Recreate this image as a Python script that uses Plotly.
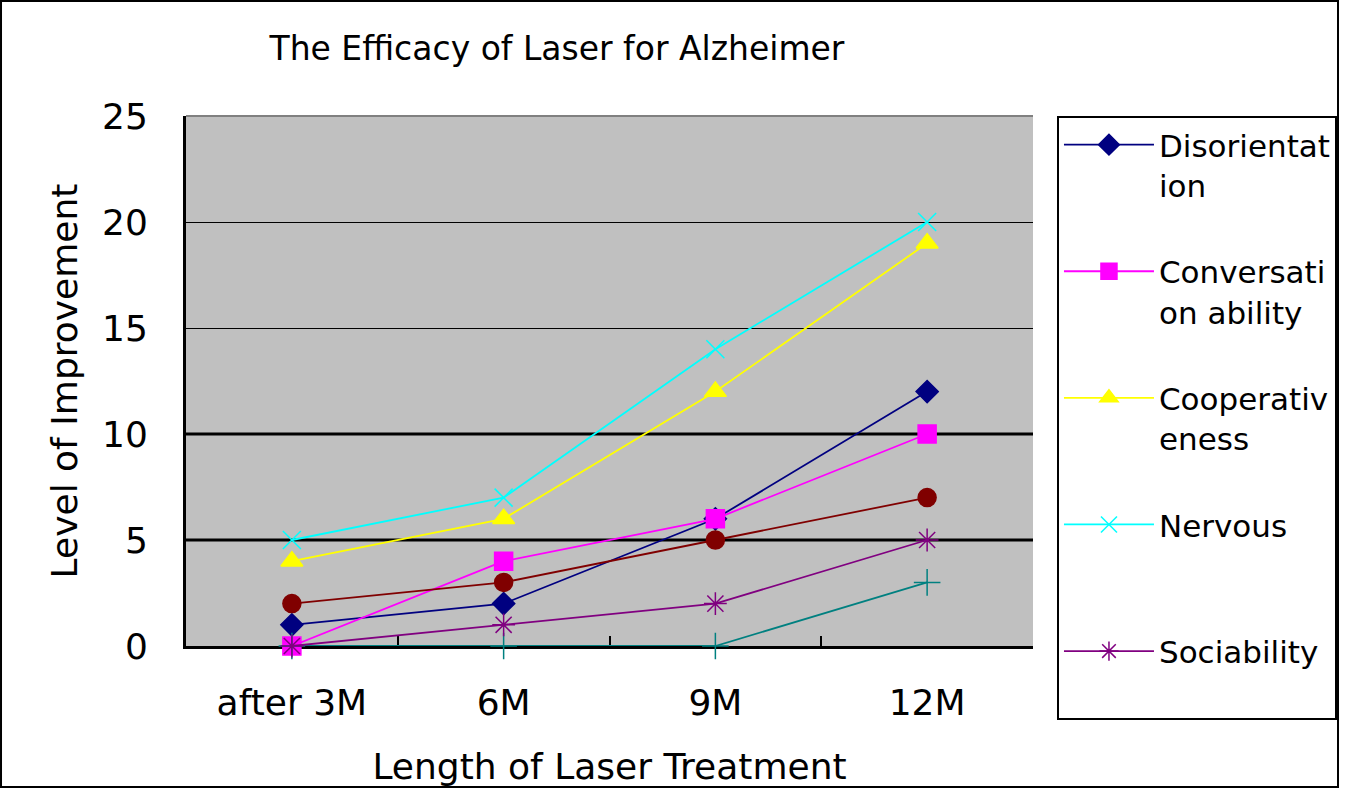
import plotly.graph_objects as go

categories = ["after 3M", "6M", "9M", "12M"]

disorientation = [1, 2, 6, 12]
conversation = [0, 4, 6, 10]
cooperativeness = [4, 6, 12, 19]
nervous = [5, 7, 14, 20]
series5 = [2, 3, 5, 7]
series6 = [0, 0, 0, 3]
sociability = [0, 1, 2, 5]

y_ticks = [0, 5, 10, 15, 20, 25]
thick_grid = [5, 10]

FONT = "DejaVu Sans"

series = [
    ("Disorientat<br>ion", disorientation, "#000080", "diamond", 17, True),
    ("Conversati<br>on ability", conversation, "#FF00FF", "square", 18, True),
    ("Cooperativ<br>eness", cooperativeness, "#FFFF00", "triangle-up", 19, True),
    ("Nervous<br>&nbsp;", nervous, "#00FFFF", "x-thin-open", 18, True),
    ("Series5", series5, "#800000", "circle", 18, False),
    ("Series6", series6, "#008080", "cross-thin-open", 19, False),
    ("Sociability<br>&nbsp;", sociability, "#800080", "asterisk-open", 19, True),
]

fig = go.Figure()
for i, (name, vals, color, sym, size, show) in enumerate(series):
    fig.add_trace(go.Scatter(
        x=categories, y=vals, name=name, mode="lines+markers",
        line=dict(color=color, width=1.8),
        marker=dict(symbol=sym, size=size, color=color,
                    line=dict(color=color, width=1.5)),
        cliponaxis=False, showlegend=show, legendgroup=f"g{i}",
    ))

shapes = []
for g in thick_grid:
    shapes.append(dict(type="line", xref="paper", yref="y", x0=0, x1=1, y0=g, y1=g,
                       line=dict(color="black", width=3), layer="below"))
# plot-area top edge (darker)
shapes.append(dict(type="line", xref="paper", yref="paper", x0=0, x1=1, y0=1, y1=1,
                   line=dict(color="#808080", width=2), layer="below"))
# outer chart border
shapes.append(dict(type="rect", xref="paper", yref="paper",
                   x0=-0.2184, x1=1.3601, y0=-0.266, y1=1.217,
                   line=dict(color="black", width=2), fillcolor="rgba(0,0,0,0)"))

fig.update_layout(
    width=1345, height=789,
    margin=dict(l=186, r=312, t=116, b=143, autoexpand=False),
    paper_bgcolor="white", plot_bgcolor="#C0C0C0",
    font=dict(family=FONT, size=36, color="black"),
    title=dict(text="The Efficacy of Laser for Alzheimer", x=0.438, xref="paper",
               xanchor="center", y=0.939, yref="container", yanchor="middle",
               font=dict(family=FONT, size=33, color="black")),
    xaxis=dict(type="category", categoryorder="array", categoryarray=categories,
               range=[-0.5, 3.5], showgrid=False, showline=True, linecolor="black",
               linewidth=3, ticks="inside", tickson="boundaries", ticklen=10,
               tickcolor="black", tickwidth=2, layer="below traces",
               tickfont=dict(size=36), automargin=False, ticklabelstandoff=23,
               title=dict(text="Length of Laser Treatment", standoff=32,
                          font=dict(size=36))),
    yaxis=dict(range=[0, 25], tickvals=y_ticks, showgrid=True, gridcolor="black",
               gridwidth=1, zeroline=False, showline=True, linecolor="black",
               linewidth=3, ticks="", layer="below traces", tickfont=dict(size=36),
               automargin=False, ticklabelstandoff=28,
               title=dict(text="Level of Improvement", standoff=14,
                          font=dict(size=36))),
    legend=dict(x=1.0283, xanchor="left", y=1.0, yanchor="top",
                bgcolor="white", bordercolor="black", borderwidth=2,
                font=dict(size=31), valign="top", tracegroupgap=43,
                itemwidth=90, traceorder="grouped", maxheight=700),
    shapes=shapes,
)

fig.write_html("out.html", config={"displayModeBar": False},
               post_script="document.body.style.margin='0';")
